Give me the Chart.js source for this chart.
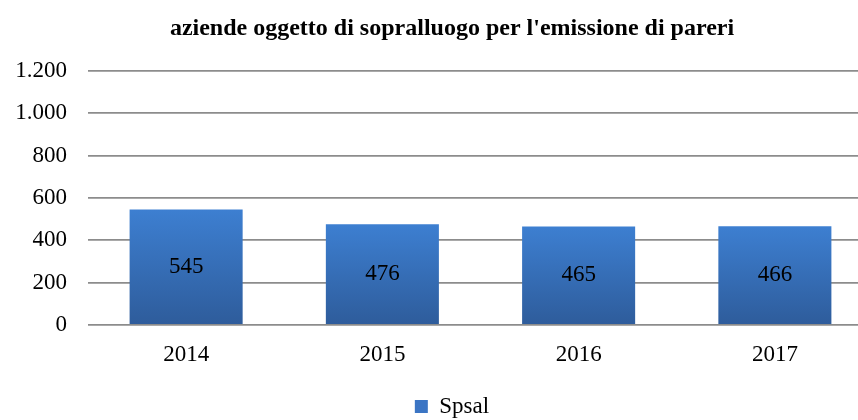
<!DOCTYPE html>
<html>
<head>
<meta charset="utf-8">
<script src="https://cdn.jsdelivr.net/npm/chart.js@4/dist/chart.umd.min.js"></script>
<style>
  html, body { margin: 0; padding: 0; background: #fff; overflow: hidden; }
  #wrap { width: 902px; height: 420px; }
</style>
</head>
<body>
<div id="wrap"><canvas id="chart"></canvas></div>
<script>
const years = ['2014', '2015', '2016', '2017'];
const spsal = [545, 476, 465, 466];
const yTicks = [0, 200, 400, 600, 800, 1000, 1200];

const serif = '"Liberation Serif", "Times New Roman", serif';

// gradient per bar, light at the top, darker at the base
function barGradient(ctx) {
    const chart = ctx.chart;
    const y = chart.scales.y;
    if (!y || ctx.raw === undefined) return '#3b75c4';
    const top = y.getPixelForValue(ctx.raw);
    const bottom = y.getPixelForValue(0);
    const g = chart.ctx.createLinearGradient(0, top, 0, bottom);
    g.addColorStop(0, '#3d7fd1');
    g.addColorStop(1, '#2e5c9b');
    return g;
}

// value written in the middle of each bar
const barValues = {
    id: 'barValues',
    afterDatasetsDraw(chart) {
        const c = chart.ctx;
        const meta = chart.getDatasetMeta(0);
        c.save();
        c.font = '23px ' + serif;
        c.fillStyle = '#000';
        c.textAlign = 'center';
        c.textBaseline = 'middle';
        meta.data.forEach((bar, i) => {
            c.fillText(String(spsal[i]), bar.x, (bar.y + bar.base) / 2);
        });
        c.restore();
    }
};

new Chart(document.getElementById('chart'), {
    type: 'bar',
    data: {
        labels: years,
        datasets: [{
            label: 'Spsal',
            data: spsal,
            backgroundColor: barGradient,
            borderWidth: 0,
            categoryPercentage: 1,
            barPercentage: 0.576
        }]
    },
    options: {
        responsive: true,
        maintainAspectRatio: false,
        animation: false,
        layout: { padding: { left: 31, right: 29, top: 0, bottom: -8 } },
        plugins: {
            title: {
                display: true,
                text: "aziende oggetto di sopralluogo per l'emissione di pareri",
                color: '#000',
                font: { family: serif, size: 24, weight: 'bold' },
                padding: { top: 14, bottom: 28 }
            },
            legend: {
                position: 'bottom',
                labels: {
                    color: '#000',
                    font: { family: serif, size: 23 },
                    boxWidth: 13,
                    boxHeight: 13,
                    padding: 3,
                    generateLabels: () => [{
                        text: 'Spsal',
                        fillStyle: '#3b75c4',
                        strokeStyle: '#3b75c4',
                        lineWidth: 0,
                        datasetIndex: 0
                    }]
                }
            },
            tooltip: { enabled: false }
        },
        scales: {
            x: {
                grid: { display: false },
                border: { display: false },
                ticks: { color: '#000', font: { family: serif, size: 23 }, padding: 8 },
                afterFit(scale) { scale.height = 67; }
            },
            y: {
                min: 0,
                max: 1200,
                afterBuildTicks(scale) { scale.ticks = yTicks.map(v => ({ value: v })); },
                grid: { color: '#8c8c8c', lineWidth: 1.8, drawTicks: false },
                border: { display: false },
                ticks: {
                    color: '#000',
                    font: { family: serif, size: 23 },
                    padding: 21,
                    callback: v => String(v).replace(/\B(?=(\d{3})+(?!\d))/g, '.')
                },
                afterFit(scale) {
                    scale.width = 57;
                    // labels like "1.200" reach past the axis box, so do not clip them
                    scale._computeLabelArea = () => undefined;
                }
            }
        }
    },
    plugins: [barValues]
});
</script>
</body>
</html>
